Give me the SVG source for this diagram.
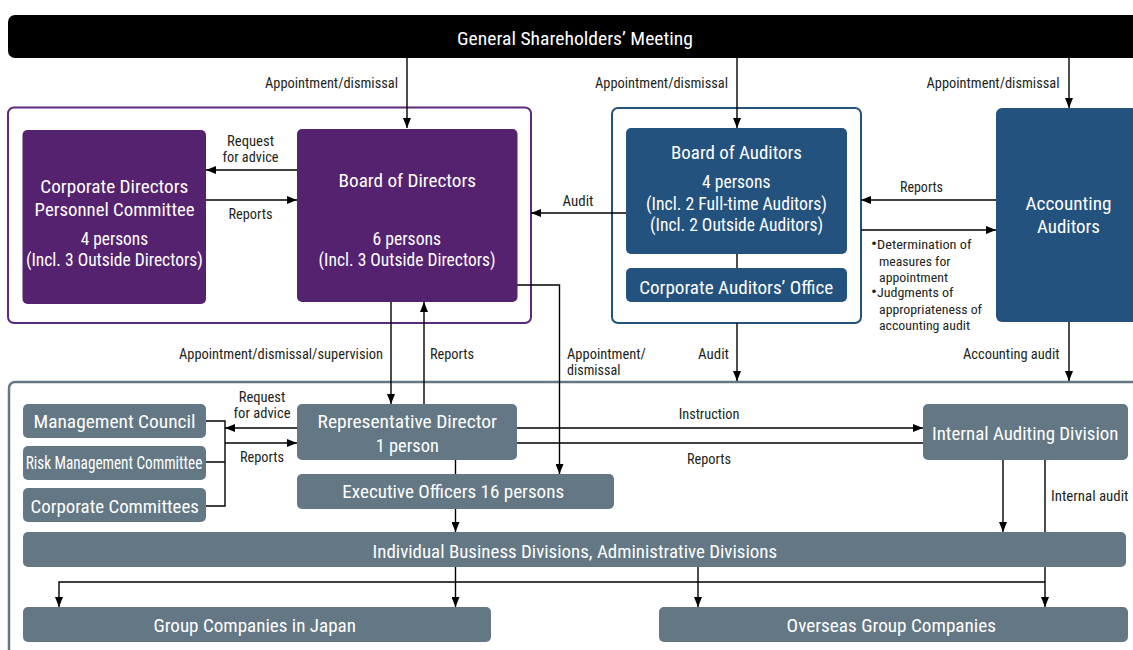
<svg xmlns="http://www.w3.org/2000/svg" width="1133" height="650" viewBox="0 0 1133 650">
<defs>
<style>
text{font-family:"Liberation Sans Narrow","Roboto Condensed","DejaVu Sans Condensed","Liberation Sans",sans-serif;}
.n{fill:#fff;font-size:18px;text-anchor:middle;}
.l{fill:#231f20;font-size:14px;}
.m{text-anchor:middle;}
.e{text-anchor:end;}
.b{font-size:13.5px;fill:#231f20;}
.bu{font-size:17px;}
.pu{fill:#55226f;}
.bl{fill:#24527e;}
.gr{fill:#637884;}
.c{fill:none;stroke:#000;stroke-width:1.4;}
.a{marker-end:url(#ar);}
</style>
<marker id="ar" markerWidth="10" markerHeight="8" refX="10" refY="4" orient="auto" markerUnits="userSpaceOnUse">
<path d="M0,0 L10,4 L0,8 z" fill="#000"/>
</marker>
</defs>
<rect width="1133" height="650" fill="#fff"/>

<g id="gsm">
<rect x="8" y="15" width="1150" height="43" rx="7" fill="#000"/>
<text x="575" y="44.5" fill="#fff" font-size="19" text-anchor="middle" textLength="236" lengthAdjust="spacingAndGlyphs">General Shareholders’ Meeting</text>
</g>

<g id="directors-frame"><rect x="8" y="107.5" width="523" height="215.5" rx="6" fill="#fff" stroke="#5b2a7c" stroke-width="2"/></g>
<g id="auditors-frame"><rect x="612" y="108" width="249" height="215" rx="6" fill="#fff" stroke="#24527e" stroke-width="2"/></g>
<g id="execution-frame"><rect x="9" y="382" width="1150" height="300" rx="6" fill="#fff" stroke="#637884" stroke-width="2.5"/></g>

<g id="connectors">
<path class="c a" d="M407,58 V128"/>
<path class="c a" d="M737,58 V128"/>
<path class="c a" d="M1069,58 V108"/>
<path class="c a" d="M297,170 H206"/>
<path class="c a" d="M206,200 H297"/>
<path class="c a" d="M626,213 H531"/>
<path class="c a" d="M996,200 H861"/>
<path class="c a" d="M861,230 H996"/>
<path class="c" d="M737,254 V268"/>
<path class="c a" d="M737,323 V381"/>
<path class="c a" d="M1069,322 V381"/>
<path class="c a" d="M391,302 V404"/>
<path class="c a" d="M424,404 V302"/>
<path class="c a" d="M517,285 H559.5 V474"/>
<path class="c" d="M206,421 H225 V506 H206 M206,462 H225"/>
<path class="c a" d="M297,428 H225"/>
<path class="c a" d="M225,443 H297"/>
<path class="c a" d="M517,428 H923"/>
<path class="c" d="M923,443 H517"/>
<path class="c" d="M455.5,460 V474"/>
<path class="c a" d="M455.5,509 V532"/>
<path class="c a" d="M1003,460 V532"/>
<path class="c a" d="M1045,460 V607"/>
<path class="c a" d="M455.5,567 V607"/>
<path class="c a" d="M1045,582 H59 V607"/>
<path class="c a" d="M698,567 V607"/>
</g>

<g id="connector-labels">
<text class="l e" x="398" y="88" textLength="133" lengthAdjust="spacingAndGlyphs">Appointment/dismissal</text>
<text class="l e" x="728" y="88" textLength="133" lengthAdjust="spacingAndGlyphs">Appointment/dismissal</text>
<text class="l e" x="1059.5" y="88" textLength="133" lengthAdjust="spacingAndGlyphs">Appointment/dismissal</text>
<text class="l m" x="250.5" y="146" textLength="47" lengthAdjust="spacingAndGlyphs">Request</text>
<text class="l m" x="250.5" y="162" textLength="56" lengthAdjust="spacingAndGlyphs">for advice</text>
<text class="l m" x="250.5" y="219" textLength="44" lengthAdjust="spacingAndGlyphs">Reports</text>
<text class="l m" x="578" y="206" textLength="31" lengthAdjust="spacingAndGlyphs">Audit</text>
<text class="l m" x="921.5" y="192" textLength="43" lengthAdjust="spacingAndGlyphs">Reports</text>
<text class="b" x="871" y="249" textLength="100.5" lengthAdjust="spacingAndGlyphs"><tspan class="bu">•</tspan>Determination of</text>
<text class="b" x="879" y="266" textLength="71.5" lengthAdjust="spacingAndGlyphs">measures for</text>
<text class="b" x="879" y="282" textLength="69" lengthAdjust="spacingAndGlyphs">appointment</text>
<text class="b" x="871" y="297" textLength="82.5" lengthAdjust="spacingAndGlyphs"><tspan class="bu">•</tspan>Judgments of</text>
<text class="b" x="879" y="314" textLength="103" lengthAdjust="spacingAndGlyphs">appropriateness of</text>
<text class="b" x="879" y="330" textLength="91" lengthAdjust="spacingAndGlyphs">accounting audit</text>
<text class="l e" x="729" y="359" textLength="31" lengthAdjust="spacingAndGlyphs">Audit</text>
<text class="l e" x="1059.5" y="359" textLength="96.5" lengthAdjust="spacingAndGlyphs">Accounting audit</text>
<text class="l" x="567" y="359" textLength="79" lengthAdjust="spacingAndGlyphs">Appointment/</text>
<text class="l" x="567" y="375" textLength="53.5" lengthAdjust="spacingAndGlyphs">dismissal</text>
<text class="l e" x="383" y="359" textLength="204" lengthAdjust="spacingAndGlyphs">Appointment/dismissal/supervision</text>
<text class="l" x="430" y="359" textLength="44" lengthAdjust="spacingAndGlyphs">Reports</text>
<text class="l m" x="262" y="402" textLength="46.6" lengthAdjust="spacingAndGlyphs">Request</text>
<text class="l m" x="262" y="418" textLength="57" lengthAdjust="spacingAndGlyphs">for advice</text>
<text class="l m" x="262" y="462" textLength="44" lengthAdjust="spacingAndGlyphs">Reports</text>
<text class="l m" x="709" y="419" textLength="60.7" lengthAdjust="spacingAndGlyphs">Instruction</text>
<text class="l m" x="709" y="464" textLength="44" lengthAdjust="spacingAndGlyphs">Reports</text>
<text class="l" x="1051" y="501" textLength="77.5" lengthAdjust="spacingAndGlyphs">Internal audit</text>
</g>

<g id="cdpc">
<rect class="pu" x="22.5" y="130" width="183.5" height="174" rx="5"/>
<text class="n" x="114.3" y="192.5" textLength="148" lengthAdjust="spacingAndGlyphs">Corporate Directors</text>
<text class="n" x="114.6" y="215.5" textLength="160" lengthAdjust="spacingAndGlyphs">Personnel Committee</text>
<text class="n" x="114.4" y="244.5" textLength="67.5" lengthAdjust="spacingAndGlyphs">4 persons</text>
<text class="n" x="114.4" y="265.5" textLength="177" lengthAdjust="spacingAndGlyphs">(Incl. 3 Outside Directors)</text>
</g>
<g id="board-of-directors">
<rect class="pu" x="297" y="129" width="220.5" height="173" rx="5"/>
<text class="n" x="407.3" y="186.5" textLength="137.5" lengthAdjust="spacingAndGlyphs">Board of Directors</text>
<text class="n" x="406.8" y="244.5" textLength="68.6" lengthAdjust="spacingAndGlyphs">6 persons</text>
<text class="n" x="407.1" y="265.5" textLength="177" lengthAdjust="spacingAndGlyphs">(Incl. 3 Outside Directors)</text>
</g>
<g id="board-of-auditors">
<rect class="bl" x="626" y="128" width="221" height="126" rx="5"/>
<text class="n" x="736.5" y="158.5" textLength="131" lengthAdjust="spacingAndGlyphs">Board of Auditors</text>
<text class="n" x="736.3" y="187.5" textLength="68.4" lengthAdjust="spacingAndGlyphs">4 persons</text>
<text class="n" x="736.5" y="209.5" textLength="181" lengthAdjust="spacingAndGlyphs">(Incl. 2 Full-time Auditors)</text>
<text class="n" x="736.5" y="230.5" textLength="173" lengthAdjust="spacingAndGlyphs">(Incl. 2 Outside Auditors)</text>
</g>
<g id="corporate-auditors-office">
<rect class="bl" x="626" y="268" width="221" height="34" rx="5"/>
<text class="n" x="736.2" y="293.5" textLength="194" lengthAdjust="spacingAndGlyphs">Corporate Auditors’ Office</text>
</g>
<g id="accounting-auditors">
<rect class="bl" x="996" y="108" width="160" height="214" rx="6"/>
<text class="n" x="1068.5" y="209.5" textLength="86" lengthAdjust="spacingAndGlyphs">Accounting</text>
<text class="n" x="1068.5" y="232.5" textLength="63" lengthAdjust="spacingAndGlyphs">Auditors</text>
</g>
<g id="management-council">
<rect class="gr" x="23" y="404" width="183" height="34" rx="5"/>
<text class="n" x="114.5" y="427.5" textLength="162" lengthAdjust="spacingAndGlyphs">Management Council</text>
</g>
<g id="risk-management-committee">
<rect class="gr" x="23" y="446" width="183" height="34" rx="5"/>
<text class="n" x="114" y="468.5" font-size="16.5" textLength="176.7" lengthAdjust="spacingAndGlyphs">Risk Management Committee</text>
</g>
<g id="corporate-committees">
<rect class="gr" x="23" y="488" width="183" height="34" rx="5"/>
<text class="n" x="114.7" y="512.5" textLength="168.5" lengthAdjust="spacingAndGlyphs">Corporate Committees</text>
</g>
<g id="representative-director">
<rect class="gr" x="297" y="404" width="220" height="56" rx="5"/>
<text class="n" x="407.3" y="427.5" textLength="179.5" lengthAdjust="spacingAndGlyphs">Representative Director</text>
<text class="n" x="407.3" y="451.5" textLength="63" lengthAdjust="spacingAndGlyphs">1 person</text>
</g>
<g id="executive-officers">
<rect class="gr" x="297" y="474" width="317" height="35" rx="5"/>
<text class="n" x="453.2" y="497.5" textLength="221.8" lengthAdjust="spacingAndGlyphs">Executive Officers 16 persons</text>
</g>
<g id="internal-auditing-division">
<rect class="gr" x="923" y="404" width="205" height="56" rx="5"/>
<text class="n" x="1025.2" y="439.5" textLength="186.4" lengthAdjust="spacingAndGlyphs">Internal Auditing Division</text>
</g>
<g id="business-divisions">
<rect class="gr" x="23" y="532" width="1103" height="35" rx="5"/>
<text class="n" x="574.8" y="557.5" textLength="404.6" lengthAdjust="spacingAndGlyphs">Individual Business Divisions, Administrative Divisions</text>
</g>
<g id="group-companies-japan">
<rect class="gr" x="23" y="607" width="468" height="35" rx="5"/>
<text class="n" x="254.7" y="631.5" textLength="202.5" lengthAdjust="spacingAndGlyphs">Group Companies in Japan</text>
</g>
<g id="overseas-group-companies">
<rect class="gr" x="659" y="607" width="469" height="35" rx="5"/>
<text class="n" x="891.3" y="631.5" textLength="209.4" lengthAdjust="spacingAndGlyphs">Overseas Group Companies</text>
</g>
</svg>
